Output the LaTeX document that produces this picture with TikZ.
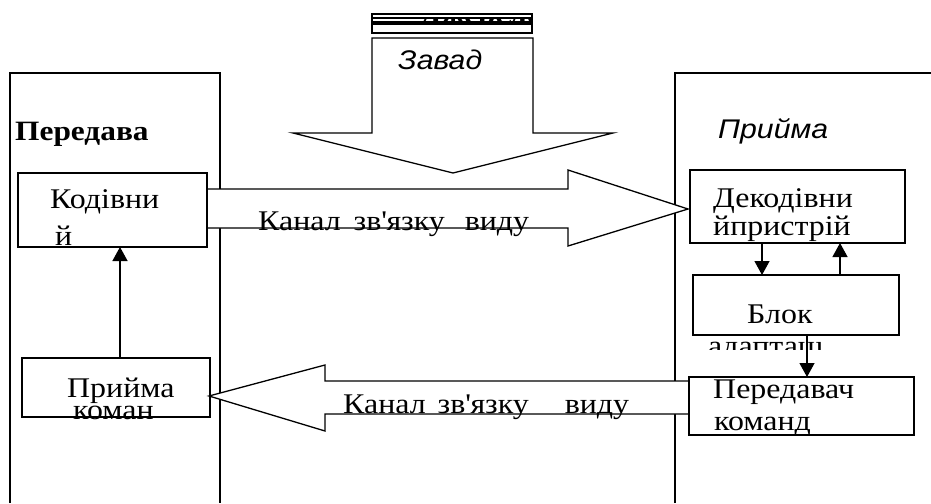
\documentclass[tikz,border=0pt]{standalone}
\usepackage{fontspec}
\setmainfont{Liberation Serif}[FakeStretch=1.12]
\setsansfont{Liberation Sans}[FakeStretch=1.12]
\usetikzlibrary{arrows.meta}
\begin{document}
\begin{tikzpicture}[x=1pt,y=-1pt,
  frame/.style={line width=2.6pt},
  box/.style={draw, line width=1.3pt, inner sep=0pt, outer sep=0pt},
  lbl/.style={anchor=base west, inner sep=0pt, font=\fontsize{28.5}{28.5}\selectfont},
  slbl/.style={anchor=base west, inner sep=0pt, font=\sffamily\itshape\fontsize{27}{27}\selectfont},
  blockarrow/.style={draw, fill=white, line width=1.3pt, line join=miter},
  thin/.style={line width=1.3pt},
  arr/.style={line width=1.3pt, -{Triangle[width=15pt,length=14pt]}}]
\useasboundingbox (0,0) rectangle (931,503);

% outer frames
\draw[frame] (10,503) -- (10,73) -- (220,73) -- (220,503);
\draw[frame] (675,503) -- (675,73) -- (931,73);

% noise arrow
\draw[blockarrow] (372,38) -- (533,38) -- (533,133) -- (613,133) -- (453,173) -- (293,133) -- (372,133) -- cycle;
\draw[thin] (372,24) rectangle (532,33);
\draw[thin] (372,14) rectangle (532,22);
\draw[thin] (372,18) -- (532,18);
\begin{scope}
  \clip (372,18) rectangle (532,22);
  \node[lbl, font=\bfseries\fontsize{28}{28}\selectfont] (src) at (420,24) {Джерело};
\end{scope}
\node[slbl] (zavad) at (398,70) {Завад};

% channel arrows
\filldraw[blockarrow] (207,189) -- (568,189) -- (568,170) -- (688,209) -- (568,246) -- (568,228) -- (207,228);
\filldraw[blockarrow] (689,381) -- (325,381) -- (325,365) -- (209,396) -- (325,431) -- (325,414) -- (689,414);

% boxes
\node[box, minimum width=189pt, minimum height=74pt] (kod) at (112.5,210) {};
\node[box, minimum width=188pt, minimum height=59pt] (prk) at (116,387.5) {};
\node[box, minimum width=215pt, minimum height=73pt] (dek) at (797.5,206.5) {};
\node[box, minimum width=206pt, minimum height=60pt] (blk) at (796,305) {};
\node[box, minimum width=225pt, minimum height=58pt] (prd) at (801.5,406) {};

% headings
\node[lbl, font=\bfseries\fontsize{28}{28}\selectfont] (tx) at (15,140) {Передава};
\node[slbl] (rx) at (718,138) {Прийма};

% box texts
\node[lbl] (t1) at (50,208) {Кодівни};
\node[lbl] (t1b) at (55,245) {й};
\node[lbl] (t2) at (67,397) {Прийма};
\node[lbl] (t2b) at (73,419) {коман};
\node[lbl] (t3) at (713,207) {Декодівни};
\node[lbl] (t3b) at (713,235) {йпристрій};
\node[lbl] (t4) at (747,323) {Блок};
\begin{scope}
  \clip (700,341) rectangle (830,349);
  \node[lbl] (t4b) at (708,355) {адаптаці};
\end{scope}
\node[lbl] (t5) at (713,398) {Передавач};
\node[lbl] (t5b) at (714,430) {команд};

% channel labels
\node[lbl] (ch1) at (258,230) {Канал\hspace{13pt}зв\textquotesingle язку\hspace{20pt}виду};
\node[lbl] (ch2) at (343,413) {Канал\hspace{12pt}зв\textquotesingle язку\hspace{36pt}виду};

% small arrows
\coordinate (c1) at (120,0);
\coordinate (c2) at (762,0);
\coordinate (c3) at (840,0);
\coordinate (c4) at (807,0);
\draw[arr] (prk.north -| c1) -- (kod.south -| c1);
\draw[arr] (dek.south -| c2) -- (blk.north -| c2);
\draw[arr] (blk.north -| c3) -- (dek.south -| c3);
\draw[arr] (blk.south -| c4) -- (prd.north -| c4);
\end{tikzpicture}
\end{document}
